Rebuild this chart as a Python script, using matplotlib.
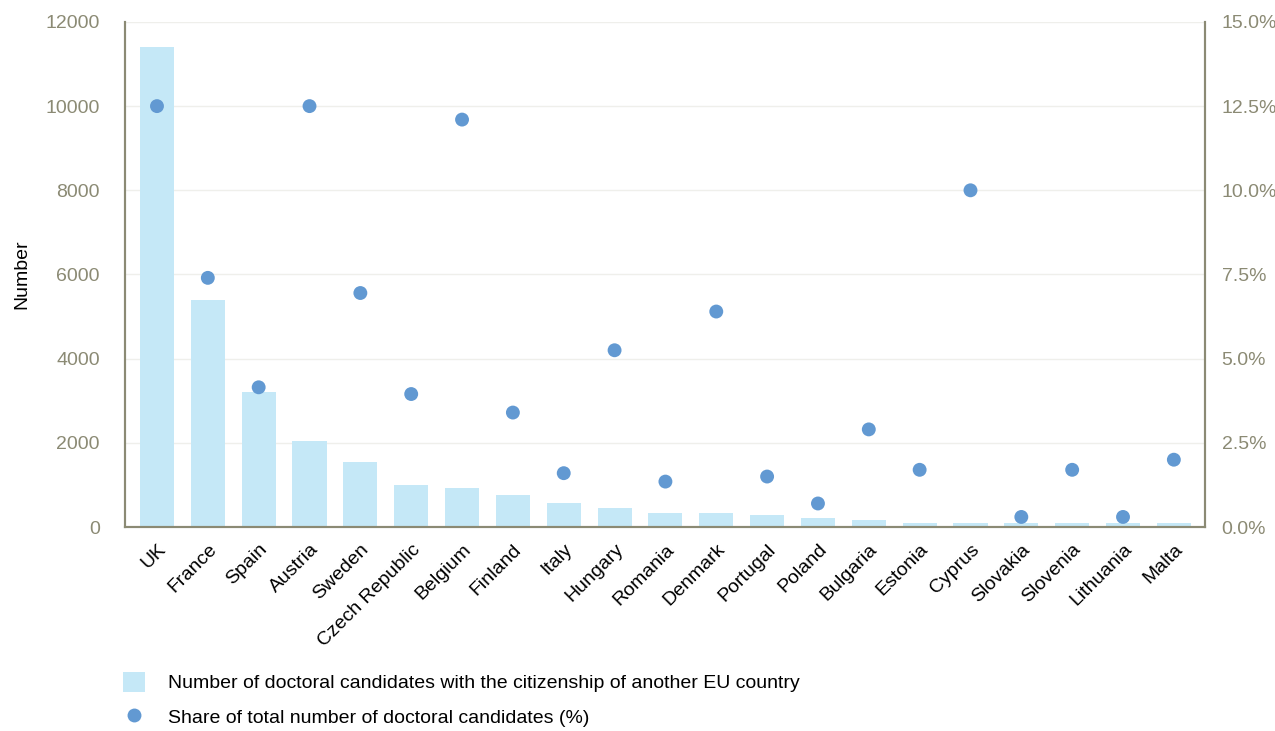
import matplotlib.pyplot as plt
import matplotlib.transforms as mtransforms
from matplotlib.patches import Patch
from matplotlib.lines import Line2D
from matplotlib.ticker import FuncFormatter

countries = ["UK", "France", "Spain", "Austria", "Sweden", "Czech Republic", "Belgium",
             "Finland", "Italy", "Hungary", "Romania", "Denmark", "Portugal", "Poland",
             "Bulgaria", "Estonia", "Cyprus", "Slovakia", "Slovenia", "Lithuania", "Malta"]
candidates = [11400, 5400, 3200, 2050, 1550, 1000, 930, 760, 570, 450, 340, 340, 285,
              210, 165, 95, 90, 90, 90, 90, 90]
share = [12.5, 7.4, 4.15, 12.5, 6.95, 3.95, 12.1, 3.4, 1.6, 5.25, 1.35, 6.4, 1.5,
         0.7, 2.9, 1.7, 10.0, 0.3, 1.7, 0.3, 2.0]

plt.rcParams['font.family'] = ['Liberation Sans', 'DejaVu Sans']

bar_col = "#c5e8f7"
dot_col = "#6299d2"
tick_col = "#8b8a74"
spine_col = "#8b8a74"

fig = plt.figure(figsize=(12.75, 7.31), dpi=100)
ax = fig.add_axes([0.098, 0.279, 0.847, 0.691])
ax2 = ax.twinx()

x = list(range(len(countries)))
ax.bar(x, candidates, width=0.67, color=bar_col, zorder=2)
ax2.scatter(x, share, s=100, color=dot_col, zorder=3, edgecolors='none')

ax.set_ylim(0, 12000)
ax.set_yticks(range(0, 12001, 2000))
ax2.set_ylim(0, 15)
ax2.set_yticks([0, 2.5, 5, 7.5, 10, 12.5, 15])
ax2.yaxis.set_major_formatter(FuncFormatter(lambda v, p: "{:.1f}%".format(v)))
ax.set_xlim(-0.63, len(countries) - 0.39)

ax.grid(axis='y', color="#efefeb", linewidth=1, zorder=0)
ax.set_axisbelow(True)

ax.set_xticks(x)
ax.set_xticklabels(countries, rotation=45, ha='right', rotation_mode='anchor', fontsize=14)
shift = mtransforms.ScaledTranslation(10 / 100, 0, fig.dpi_scale_trans)
for lbl in ax.get_xticklabels():
    lbl.set_transform(lbl.get_transform() + shift)
ax.tick_params(axis='x', length=0, pad=10)
ax.tick_params(axis='y', length=0, labelsize=14, labelcolor=tick_col, pad=18)
ax2.tick_params(axis='y', length=0, labelsize=14, labelcolor=tick_col, pad=12)

for a in (ax, ax2):
    a.spines['top'].set_visible(False)
    for s in ('left', 'right', 'bottom'):
        a.spines[s].set_color(spine_col)
        a.spines[s].set_linewidth(1.5)

ax.set_ylabel("Number", fontsize=14)
ax.yaxis.set_label_coords(-0.088, 0.5)

handles = [Patch(facecolor=bar_col, edgecolor='none'),
           Line2D([], [], marker='o', linestyle='none', markersize=10,
                  markerfacecolor=dot_col, markeredgecolor='none')]
labels = ["Number of doctoral candidates with the citizenship of another EU country",
          "Share of total number of doctoral candidates (%)"]
fig.legend(handles, labels, loc='upper left', bbox_to_anchor=(0.083, 0.105),
           frameon=False, fontsize=14, handlelength=1.1, handleheight=1.2,
           handletextpad=1.2, labelspacing=0.75)

fig.savefig("out.png", dpi=100)
